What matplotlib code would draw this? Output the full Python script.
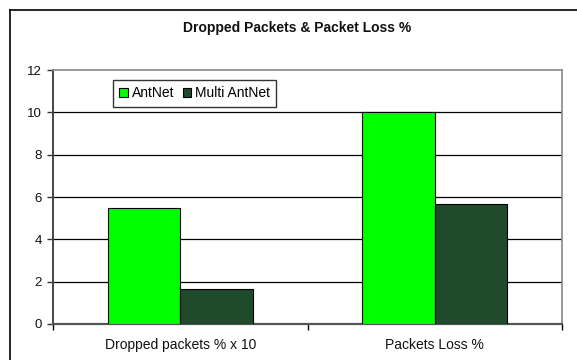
import matplotlib
matplotlib.use('Agg')
import matplotlib.pyplot as plt
from matplotlib.lines import Line2D
import numpy as np

# Data
categories = ['Dropped packets % x 10', 'Packets Loss %']
antnet = [5.5, 10.0]
multi_antnet = [1.65, 5.67]
series_names = ['AntNet', 'Multi AntNet']
y_ticks = [0, 2, 4, 6, 8, 10, 12]

plt.rcParams['font.family'] = ['Liberation Sans', 'DejaVu Sans']

W, H = 577, 360
fig = plt.figure(figsize=(W / 100, H / 100), dpi=100)

# outer chart frame (only left and top visible in the reference)
fig.add_artist(Line2D([10 / W, 10 / W], [0, 1 - 10 / H], color='black', lw=1.2, transform=fig.transFigure))
fig.add_artist(Line2D([10 / W, 1], [1 - 10 / H, 1 - 10 / H], color='black', lw=1.2, transform=fig.transFigure))

ax = fig.add_axes([53 / W, 1 - 324 / H, (562 - 53) / W, (324 - 70) / H])

x = np.arange(len(categories))
width = 1 / 3.5  # Excel gap width 150%
b1 = ax.bar(x - width / 2, antnet, width, color='#00ff00', edgecolor='black', linewidth=0.8,
            label=series_names[0], zorder=3)
b2 = ax.bar(x + width / 2, multi_antnet, width, color='#1f4a2b', edgecolor='black', linewidth=0.8,
            label=series_names[1], zorder=3)

ax.set_xlim(-0.5, len(categories) - 0.5)
ax.set_ylim(0, 12)
ax.set_yticks(y_ticks)
ax.set_yticklabels([str(t) for t in y_ticks], fontsize=9.5, color='#111111')

# category labels centred, ticks at category boundaries
ax.set_xticks(x)
ax.set_xticklabels(categories, fontsize=10, color='#111111')
ax.tick_params(axis='x', which='major', length=0, pad=10)
ax.set_xticks(np.arange(-0.5, len(categories)), minor=True)
ax.tick_params(axis='x', which='minor', length=4, width=1, color='black', direction='out')
ax.tick_params(axis='y', length=4, width=1, color='#333333', direction='out', pad=4)

for t in y_ticks[1:-1]:
    ax.axhline(t, color='black', lw=0.9, zorder=1)

ax.spines['left'].set_color('#444444')
ax.spines['left'].set_linewidth(1.4)
ax.spines['bottom'].set_color('#555555')
ax.spines['bottom'].set_linewidth(1.6)
ax.spines['top'].set_color('#888888')
ax.spines['top'].set_linewidth(1.2)
ax.spines['right'].set_color('#888888')
ax.spines['right'].set_linewidth(1.2)

fig.text(297 / W, 1 - 28 / H, 'Dropped Packets & Packet Loss %', ha='center', va='center',
         fontsize=10, fontweight='bold', color='#111111')

leg = fig.legend(handles=[b1, b2], loc='upper left', bbox_to_anchor=(113 / W, 1 - 80 / H),
                 ncol=2, fontsize=10, frameon=True, fancybox=False, borderaxespad=0,
                 handlelength=0.6, handleheight=0.6, handletextpad=0.3, columnspacing=0.6,
                 borderpad=0.45)
leg.get_frame().set_edgecolor('black')
leg.get_frame().set_linewidth(1.0)

fig.savefig('out.png', dpi=100)
